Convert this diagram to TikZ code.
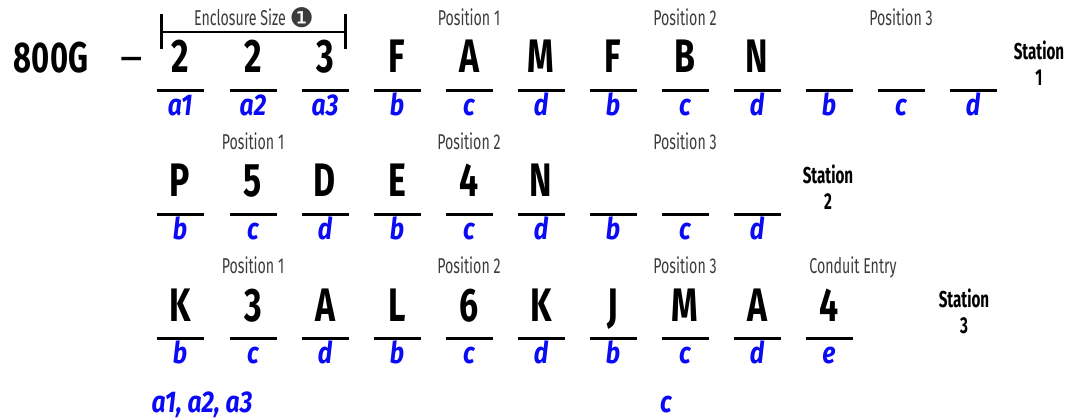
\documentclass[tikz,border=0pt]{standalone}
\usepackage{fontspec}
\newfontfamily\bigf{Fira Sans}[FakeStretch=0.72]
\newfontfamily\bluef{Fira Sans}[FakeStretch=0.82]
\newfontfamily\labf{Fira Sans}[FakeStretch=0.66]
\newfontfamily\plainf{Fira Sans}
\newfontfamily\dingf{DejaVu Sans}
\definecolor{codeblue}{RGB}{10,10,245}
\definecolor{labgray}{RGB}{60,60,60}
\begin{document}
\begin{tikzpicture}[x=1pt,y=-1pt,
  bigch/.style={anchor=base,inner sep=0pt,font=\bigf\bfseries\fontsize{47}{50}\selectfont},
  bluech/.style={anchor=base,inner sep=0pt,text=codeblue,font=\bluef\bfseries\itshape\fontsize{30}{33}\selectfont},
  poslab/.style={anchor=base,inner sep=0pt,text=labgray,font=\labf\fontsize{21.5}{24}\selectfont},
  stlab/.style={anchor=base,inner sep=0pt,font=\labf\bfseries\fontsize{23}{26}\selectfont},
  uline/.style={line width=3pt}]
\useasboundingbox (0,0) rectangle (1068,419);
% prefix
\node[bigch,font=\bigf\bfseries\fontsize{43}{46}\selectfont] (pre) at (51,73) {800G};
\node[bigch,font=\plainf\fontsize{43}{46}\selectfont] (dash) at (132,73) {–};
% enclosure bracket
\coordinate (brL) at (161,14);
\coordinate (brR) at (345,14);
\draw[line width=3pt] (brL) -- ++(0,35);
\draw[line width=3pt] (brR) -- ++(0,35);
\draw[line width=2.5pt] (161,32) -- (345,32);
\node[poslab] (encl) at (254,26) {Enclosure Size {\dingf\fontsize{27}{29}\selectfont\raisebox{-1.5pt}{❶}}};
% ---------- Row 1 ----------
\foreach \x/\ch/\bl [count=\i] in {180/2/a1,253/2/a2,325/3/a3,397/F/b,469/A/c,541/M/d,613/F/b,685/B/c,757/N/d,829//b,901//c,973//d}{
  \node[bigch] (r1c\i) at (\x,73) {\ch};
  \draw[uline] (\x-23.5,91) -- (\x+23.5,91);
  \node[bluech] (r1b\i) at (\x,116) {\bl};
}
\node[poslab] (r1p1) at (469,26) {Position 1};
\node[poslab] (r1p2) at (685,26) {Position 2};
\node[poslab] (r1p3) at (901,26) {Position 3};
\node[stlab] (st1a) at (1039,60) {Station};
\node[stlab] (st1b) at (1039,86) {1};
% ---------- Row 2 ----------
\foreach \x/\ch/\bl [count=\i] in {180/P/b,253/5/c,325/D/d,397/E/b,469/4/c,541/N/d,613//b,685//c,757//d}{
  \node[bigch] (r2c\i) at (\x,197) {\ch};
  \draw[uline] (\x-23.5,215) -- (\x+23.5,215);
  \node[bluech] (r2b\i) at (\x,240) {\bl};
}
\node[poslab] (r2p1) at (253,150) {Position 1};
\node[poslab] (r2p2) at (469,150) {Position 2};
\node[poslab] (r2p3) at (685,150) {Position 3};
\node[stlab] (st2a) at (828,184) {Station};
\node[stlab] (st2b) at (828,210) {2};
% ---------- Row 3 ----------
\foreach \x/\ch/\bl [count=\i] in {180/K/b,253/3/c,325/A/d,397/L/b,469/6/c,541/K/d,613/J/b,685/M/c,757/A/d,829/4/e}{
  \node[bigch] (r3c\i) at (\x,322) {\ch};
  \draw[uline] (\x-23.5,339) -- (\x+23.5,339);
  \node[bluech] (r3b\i) at (\x,363) {\bl};
}
\node[poslab] (r3p1) at (253,274) {Position 1};
\node[poslab] (r3p2) at (469,274) {Position 2};
\node[poslab] (r3p3) at (685,274) {Position 3};
\node[poslab] (r3p4) at (853,274) {Conduit Entry};
\node[stlab] (st3a) at (964,308) {Station};
\node[stlab] (st3b) at (964,334) {3};
% footnotes
\node[bluech] (fa) at (202,412) {a1, a2, a3};
\node[bluech] (fc) at (666,412) {c};
\end{tikzpicture}
\end{document}
